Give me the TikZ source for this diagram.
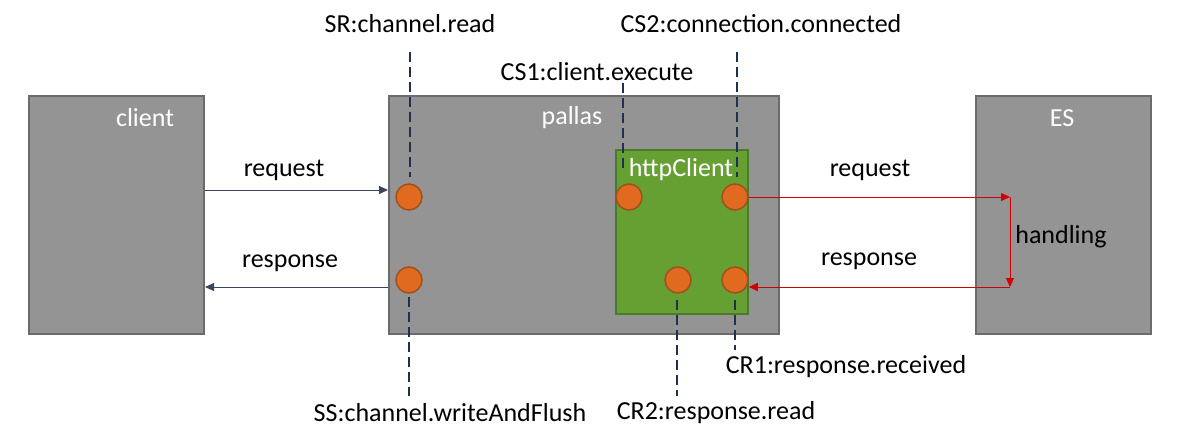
\documentclass[tikz,border=0pt]{standalone}
\usepackage{fontspec}
\setmainfont{Carlito}
\usetikzlibrary{arrows.meta,calc}
\definecolor{boxgray}{HTML}{949494}
\definecolor{boxedge}{HTML}{6B6B6B}
\definecolor{hcgreen}{HTML}{66A033}
\definecolor{hcedge}{HTML}{4A7A2A}
\definecolor{dotfill}{HTML}{E06A20}
\definecolor{dotedge}{HTML}{A0501A}
\definecolor{navy}{HTML}{1F3050}
\definecolor{arrred}{HTML}{D00000}
\definecolor{arrnavy}{HTML}{3A4560}
\tikzset{
  x=1pt,y=-1pt,
  box/.style={draw=boxedge,line width=2pt,fill=boxgray},
  hcbox/.style={draw=hcedge,line width=2pt,fill=hcgreen},
  dot/.style={circle,draw=dotedge,line width=1.5pt,fill=dotfill,minimum size=26pt,inner sep=0pt},
  lbl/.style={font=\fontsize{26}{30}\selectfont,text=black,inner sep=0pt},
  wlbl/.style={font=\fontsize{26}{30}\selectfont,text=white,inner sep=0pt},
  dashline/.style={draw=navy,line width=1.6pt,dash pattern=on 10pt off 5pt},
  navyarrow/.style={draw=arrnavy,line width=0.9pt,-{Triangle[length=9pt,width=8pt]}},
  redarrow/.style={draw=arrred,line width=0.9pt,-{Triangle[length=9pt,width=8pt]}},
}
\begin{document}
\begin{tikzpicture}
\useasboundingbox (0,0) rectangle (1186,433);
% boxes
\node[box,minimum width=175pt,minimum height=238pt,anchor=north west,inner sep=0pt] (client) at (28,95) {};
\node[box,minimum width=390pt,minimum height=238pt,anchor=north west,inner sep=0pt] (pallas) at (388,95) {};
\node[box,minimum width=175pt,minimum height=238pt,anchor=north west,inner sep=0pt] (es) at (975,95) {};
\node[hcbox,minimum width=132pt,minimum height=164pt,anchor=north west,inner sep=0pt] (hc) at (615,149) {};
% box titles
\node[wlbl] (clientt) at (145,118) {client};
\node[wlbl] (pallast) at (572,118) {pallas};
\node[wlbl] (est) at (1062,118) {ES};
\node[wlbl] (hct) at (681,170) {httpClient};
% dots
\node[dot] (sr) at (409,197) {};
\node[dot] (ss) at (409,280) {};
\node[dot] (cs1) at (629,197) {};
\node[dot] (cs2) at (735,197) {};
\node[dot] (cr2) at (678,280) {};
\node[dot] (cr1) at (735,280) {};
% labels
\node[lbl] (srl) at (410,24) {SR:channel.read};
\node[lbl] (cs2l) at (761,24) {CS2:connection.connected};
\node[lbl] (cs1l) at (597,72) {CS1:client.execute};
\node[lbl] (ssl) at (450,413) {SS:channel.writeAndFlush};
\node[lbl] (cr2l) at (716,413) {CR2:response.read};
\node[lbl] (cr1l) at (846,367) {CR1:response.received};
\node[lbl] (req1) at (284,170) {request};
\node[lbl] (resp1) at (290,263) {response};
\node[lbl] (req2) at (870,170) {request};
\node[lbl] (resp2) at (869,261) {response};
\node[lbl] (hand) at (1061,237) {handling};
% dashed lines
\coordinate (srtop) at (410,52);
\coordinate (srbot) at (410,177);
\coordinate (sstop) at (409,297);
\coordinate (ssbot) at (409,396);
\coordinate (cs1top) at (623,83);
\coordinate (cs1bot) at (623,172);
\coordinate (cs2top) at (737,52);
\coordinate (cs2bot) at (737,177);
\coordinate (cr2top) at (677,300);
\coordinate (cr2bot) at (677,396);
\coordinate (cr1top) at (735,300);
\coordinate (cr1bot) at (735,350);
\draw[dashline] (srtop) -- (srbot);
\draw[dashline] (sstop) -- (ssbot);
\draw[dashline] (cs1top) -- (cs1bot);
\draw[dashline] (cs2top) -- (cs2bot);
\draw[dashline] (cr2top) -- (cr2bot);
\draw[dashline] (cr1top) -- (cr1bot);
% client <-> pallas arrows
\draw[navyarrow] (client.east |- 0,190) -- (pallas.west |- 0,190);
\draw[navyarrow] (pallas.west |- 0,287) -- (client.east |- 0,287);
% pallas <-> ES arrows
\coordinate (h1) at (1010,197);
\coordinate (h2) at (1010,287);
\draw[redarrow] (cs2.east) -- (h1);
\draw[redarrow] (h1) -- (h2);
\draw[redarrow] (h2) -- (cr1.east |- h2);
\end{tikzpicture}
\end{document}
